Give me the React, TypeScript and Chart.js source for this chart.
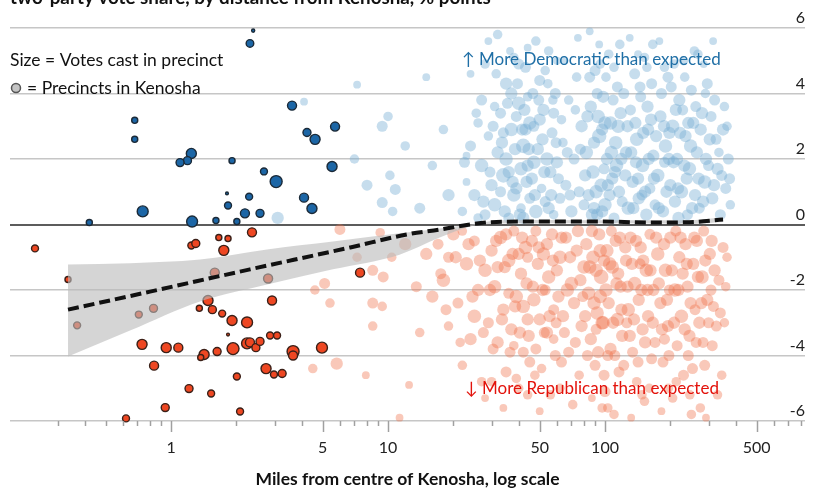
import React, { useEffect, useRef } from 'react';
import { Chart, registerables } from 'chart.js';
Chart.register(...registerables);

// ---------- DATA ----------
const titleText = 'two-party vote share, by distance from Kenosha, % points';
const xAxisTitle = 'Miles from centre of Kenosha, log scale';
const legendLine1 = 'Size = Votes cast in precinct';
const legendLine2 = '= Precincts in Kenosha';
const demNote = '\u2191 More Democratic than expected';
const repNote = '\u2193 More Republican than expected';

const xTickLabels = [1, 5, 10, 50, 100, 500];
const xMinorTicks = [0.3, 0.4, 0.5, 0.6, 0.7, 0.8, 0.9, 2, 3, 4, 6, 7, 8, 9, 20, 30, 40, 60, 70, 80, 90, 200, 300, 400, 600, 700, 800];
const yTicks = [-6, -4, -2, 0, 2, 4, 6];

// [miles, % points, votes (hundreds)]
const kenoshaDem = [
  [2.39, 5.92, 0.5], [2.31, 5.53, 3.0], [0.68, 3.18, 1.9], [0.68, 2.6, 1.9], [3.61, 3.63, 4.2],
  [4.23, 2.81, 3.3], [4.61, 2.6, 5.2], [5.70, 2.99, 4.2], [1.24, 2.17, 5.2], [1.19, 1.95, 3.3],
  [1.10, 1.89, 3.3], [1.91, 1.95, 1.9], [5.52, 1.77, 5.2], [2.68, 1.62, 2.5], [3.05, 1.31, 7.4],
  [4.10, 0.82, 4.2], [4.46, 0.49, 5.2], [1.81, 0.95, 0.4], [1.83, 0.58, 2.5], [2.29, 0.85, 2.5],
  [2.19, 0.34, 4.2], [2.57, 0.34, 3.3], [1.61, 0.12, 1.9], [2.01, 0.09, 1.9], [1.25, 0.09, 6.2],
  [0.74, 0.40, 6.2], [0.42, 0.06, 1.9],
];
const kenoshaRep = [
  [0.236, -0.73, 2.5], [1.24, -0.64, 2.5], [1.30, -0.58, 3.3], [1.66, -0.40, 1.9], [1.83, -0.43, 1.9],
  [2.36, -0.24, 4.2], [1.75, -0.79, 5.2], [0.335, -1.68, 1.9], [1.59, -1.47, 4.2], [2.80, -1.65, 4.2],
  [7.43, -1.47, 4.2], [1.48, -2.32, 5.2], [2.92, -2.32, 4.2], [0.369, -3.08, 2.5], [0.71, -2.75, 2.5],
  [0.83, -2.56, 3.3], [1.35, -2.56, 1.9], [1.55, -2.60, 3.3], [1.72, -2.72, 2.5], [1.91, -2.93, 5.2],
  [2.24, -2.99, 6.2], [1.83, -3.36, 0.4], [2.86, -3.39, 2.5], [3.08, -3.39, 2.5], [0.735, -3.66, 5.2],
  [0.95, -3.76, 5.2], [1.08, -3.76, 4.2], [1.42, -3.97, 5.2], [1.37, -4.06, 1.9], [1.63, -3.88, 3.3],
  [1.93, -3.79, 7.4], [2.24, -3.63, 6.2], [2.31, -3.60, 4.2], [2.46, -3.76, 3.3], [2.57, -3.57, 3.3],
  [3.65, -3.88, 7.4], [3.65, -4.0, 4.2], [4.96, -3.76, 6.2], [0.835, -4.31, 4.2], [2.74, -4.40, 5.2],
  [2.98, -4.58, 2.5], [3.25, -4.55, 3.3], [2.01, -4.64, 2.5], [1.21, -5.01, 3.3], [1.53, -5.16, 2.5],
  [0.94, -5.59, 3.3], [2.08, -5.71, 2.5], [0.62, -5.92, 2.5],
];
const cloudDem = [
  [7, 2.0, 3], [10.8, 1.07, 4], [8, 1.2, 4], [10.5, 0.4, 3], [9.4, 0.67, 4], [3.1, 0.2, 5], [10.2, 1.5, 3],
  [10, 3.3, 3], [4.1, 3.75, 2], [7.2, 4.27, 2], [9.4, 3.0, 4], [14, 0.5, 4], [16, 1.8, 3], [18, 2.9, 3],
  [12, 2.4, 3], [15, 4.5, 2], [19, 0.9, 5],
  [22, 0.4, 3], [23, 1.3, 2], [24, 2.4, 4], [25, 0.9, 5], [26, 3.1, 3], [27, 1.8, 6], [28, 0.3, 4], [29, 2.7, 3],
  [24, 4.6, 2], [27, 3.8, 4], [30, 1.2, 5], [29, 5.6, 2], [26, 0.2, 3], [23, 2.1, 2], [28, 4.9, 3],
  [31, 0.6, 6], [32, 2.2, 5], [33, 3.4, 4], [34, 1.5, 7], [35, 4.3, 5], [36, 0.2, 4], [37, 2.9, 6], [38, 5.1, 3],
  [39, 1.1, 5], [40, 3.7, 6], [41, 0.5, 3], [42, 2.4, 7], [43, 4.8, 4], [44, 1.8, 5], [45, 3.1, 6], [32, 5.8, 3],
  [34, 2.8, 4], [36, 1.6, 5], [38, 0.9, 6], [40, 4.9, 4], [42, 0.2, 5], [44, 3.9, 3], [33, 1.0, 4], [35, 2.0, 6],
  [37, 4.0, 5], [39, 3.3, 4], [41, 1.7, 6], [43, 2.9, 5], [45, 0.8, 4], [31, 3.6, 3],
  [46, 1.4, 5], [47, 3.0, 4], [48, 0.4, 6], [49, 2.3, 5], [50, 4.4, 4], [51, 1.1, 3], [52, 3.5, 5], [53, 0.7, 4],
  [54, 2.0, 6], [55, 5.3, 3], [56, 1.6, 5], [57, 2.8, 4], [58, 0.3, 3], [59, 4.0, 4], [60, 1.9, 5], [48, 5.6, 3],
  [50, 3.2, 5], [53, 4.7, 3], [47, 1.9, 6], [55, 0.5, 5], [58, 3.4, 4],
  [62, 0.8, 4], [64, 2.5, 3], [66, 1.2, 4], [68, 3.8, 3], [70, 0.4, 5], [72, 2.0, 4], [74, 4.5, 3], [76, 1.0, 4],
  [78, 3.0, 5], [80, 0.6, 4], [65, 5.0, 2], [75, 5.7, 2],
  [82, 2.2, 6], [84, 0.9, 5], [86, 3.6, 5], [88, 1.6, 6], [90, 4.7, 4], [92, 0.3, 5], [94, 2.7, 7], [96, 1.2, 6],
  [98, 3.9, 5], [100, 0.6, 6], [102, 2.0, 5], [104, 5.2, 3], [106, 3.1, 6], [108, 1.4, 5], [110, 0.2, 4],
  [112, 2.5, 6], [114, 4.2, 4], [116, 1.0, 5], [118, 3.4, 5], [120, 0.7, 4], [85, 5.9, 2], [92, 4.0, 4],
  [97, 2.9, 5], [101, 4.5, 3], [105, 0.9, 5], [109, 3.8, 4], [113, 1.8, 6], [117, 5.5, 3], [89, 0.5, 5], [99, 1.7, 4],
  [125, 2.2, 5], [128, 0.5, 6], [131, 3.5, 4], [134, 1.3, 5], [137, 4.6, 4], [140, 2.6, 6], [143, 0.8, 5],
  [146, 3.9, 4], [149, 1.8, 6], [152, 5.1, 3], [155, 0.3, 5], [158, 2.9, 5], [161, 1.1, 4], [164, 4.3, 4],
  [167, 2.1, 5], [170, 0.6, 4], [130, 5.7, 2], [139, 1.9, 5], [148, 0.9, 4], [157, 3.6, 5], [166, 5.5, 3],
  [175, 1.5, 6], [180, 3.3, 5], [185, 0.4, 5], [190, 2.4, 6], [195, 4.5, 4], [200, 1.2, 5], [205, 3.0, 6],
  [210, 0.7, 5], [215, 2.0, 5], [220, 3.8, 5], [225, 1.0, 6], [230, 5.0, 3], [235, 2.7, 5], [240, 0.3, 4],
  [245, 1.7, 6], [250, 4.1, 4], [255, 3.1, 5], [260, 0.9, 5], [178, 5.6, 2], [188, 1.9, 4], [198, 2.8, 5],
  [208, 4.9, 3], [218, 0.2, 5], [228, 3.5, 4], [238, 1.4, 5], [248, 2.4, 6], [258, 5.3, 3],
  [265, 2.2, 5], [272, 0.5, 4], [280, 3.4, 5], [288, 1.3, 6], [296, 4.3, 4], [304, 2.6, 5], [312, 0.8, 5],
  [320, 3.8, 4], [330, 1.7, 5], [340, 0.3, 4], [350, 2.9, 5], [360, 1.1, 4], [370, 2.0, 4], [378, 0.6, 3],
  [268, 5.2, 3], [285, 4.9, 2], [300, 1.8, 4], [315, 5.6, 2], [335, 2.2, 3], [355, 3.6, 3],
  [22.5, 1.9, 4], [25.5, 3.4, 3], [27.5, 0.7, 5], [29.5, 1.6, 4], [30.5, 3.0, 4], [31.5, 4.6, 3], [33.5, 2.5, 5],
  [34.5, 0.4, 5], [35.5, 3.7, 4], [36.5, 5.3, 2], [37.5, 1.3, 5], [38.5, 2.3, 5], [39.5, 4.3, 4], [40.5, 0.3, 5],
  [41.5, 2.9, 5], [42.5, 3.5, 5], [43.5, 1.3, 5], [44.5, 2.3, 5], [46.5, 4.0, 4], [47.5, 0.9, 5], [49.5, 3.8, 4],
  [51.5, 2.6, 5], [52.5, 1.6, 5], [54.5, 4.3, 3], [56.5, 0.9, 5], [57.5, 3.8, 3], [59.5, 2.5, 4], [61, 1.4, 4],
  [63, 3.2, 3], [67, 2.2, 4], [69, 0.9, 4], [73, 3.5, 3], [77, 2.3, 4], [81, 1.5, 5], [83, 3.3, 5], [85, 4.5, 4],
  [87, 0.3, 5], [89, 2.5, 5], [91, 1.0, 6], [93, 3.3, 6], [95, 4.9, 3], [97, 0.4, 5], [100, 3.1, 6], [103, 1.2, 5],
  [107, 2.2, 6], [110, 4.8, 3], [111, 1.6, 5], [115, 3.0, 6], [119, 2.0, 5], [122, 4.0, 4], [124, 1.5, 5],
  [127, 3.0, 5], [132, 2.2, 5], [135, 0.5, 5], [138, 3.1, 5], [142, 1.4, 5], [145, 4.2, 4], [150, 2.8, 5],
  [153, 1.0, 5], [156, 4.8, 3], [159, 2.0, 5], [163, 3.2, 5], [168, 1.4, 5], [172, 2.7, 5], [177, 0.5, 5],
  [182, 4.0, 4], [187, 3.0, 5], [192, 1.0, 5], [197, 2.0, 5], [202, 4.2, 4], [207, 1.9, 5], [212, 3.5, 5],
  [217, 1.1, 5], [222, 2.8, 5], [232, 1.8, 5], [242, 3.1, 5], [252, 0.5, 5], [262, 3.6, 4], [270, 1.4, 5],
  [276, 2.9, 5], [283, 0.7, 5], [292, 2.0, 5], [308, 3.3, 4], [318, 1.2, 5], [325, 2.6, 4], [345, 1.5, 4],
  [365, 3.0, 3], [375, 1.4, 4], [290, 4.0, 3], [233, 4.5, 3], [188, 4.8, 3], [142, 5.2, 2], [94, 5.5, 2],
  [60, 5.0, 2], [44, 5.4, 2],
];
const cloudRep = [
  [4.6, -2.0, 3], [5.4, -2.4, 3], [8.5, -2.4, 4], [9.4, -2.5, 3], [8.5, -3.1, 3], [5.8, -4.25, 5], [4.5, -4.4, 3],
  [7.9, -4.6, 2], [11.3, -5.9, 2], [6, -0.15, 4], [7.2, -1, 3], [8.5, -1.4, 4], [10.4, -1, 3], [9.5, -1.6, 4],
  [5.1, -1.8, 4], [9.2, -0.25, 3], [12, -0.6, 5], [13.5, -1.9, 4], [14, -3.3, 3], [15, -0.9, 5], [12.5, -4.9, 2],
  [17, -0.6, 4], [18, -1.7, 6], [19, -3.1, 3], [20, -0.3, 5], [21, -2.4, 4], [22, -4.3, 3], [23, -1.2, 6],
  [24, -3.5, 5], [25, -0.5, 4], [26, -2.0, 5], [27, -4.8, 3], [28, -1.4, 6], [29, -3.0, 4], [30, -0.8, 5],
  [19, -1.0, 4], [25, -2.8, 6], [28, -5.3, 2], [22, -0.2, 3], [16, -2.2, 5],
  [31, -1.9, 6], [32, -3.6, 5], [33, -0.4, 6], [34, -2.6, 5], [35, -4.5, 4], [36, -1.1, 6], [37, -3.2, 5],
  [38, -0.2, 4], [39, -2.2, 6], [40, -5.0, 3], [41, -1.5, 5], [42, -3.9, 4], [43, -0.7, 6], [44, -2.9, 5],
  [45, -4.2, 4], [32, -1.3, 5], [34, -5.6, 2], [36, -2.1, 4], [38, -3.7, 3], [40, -0.9, 5], [42, -2.5, 6],
  [44, -1.0, 4], [35, -0.3, 5], [39, -4.7, 3],
  [46, -0.5, 5], [47, -2.3, 6], [48, -3.8, 4], [49, -1.2, 5], [50, -2.9, 5], [51, -4.4, 3], [52, -0.9, 6],
  [53, -2.0, 4], [54, -3.3, 5], [55, -1.6, 6], [56, -5.2, 3], [57, -0.3, 5], [58, -2.6, 4], [59, -4.0, 4],
  [60, -1.4, 5], [48, -0.2, 4], [50, -5.7, 2], [54, -0.6, 5], [58, -3.5, 3],
  [62, -1.0, 6], [64, -2.8, 5], [66, -0.4, 5], [68, -3.9, 4], [70, -1.8, 6], [72, -2.4, 5], [74, -0.8, 5],
  [76, -4.6, 3], [78, -3.1, 5], [80, -1.3, 6], [63, -4.2, 4], [67, -2.0, 6], [71, -5.5, 3], [75, -0.2, 5], [79, -2.2, 4],
  [82, -0.6, 5], [84, -2.1, 6], [86, -3.5, 5], [88, -1.0, 6], [90, -4.3, 4], [92, -2.7, 6], [94, -0.3, 5],
  [96, -1.6, 7], [98, -3.0, 6], [100, -5.1, 4], [102, -0.8, 6], [104, -2.4, 5], [106, -3.8, 5], [108, -1.3, 6],
  [110, -5.8, 3], [112, -0.5, 5], [114, -2.9, 6], [116, -4.5, 4], [118, -1.9, 5], [120, -3.4, 5], [95, -2.2, 6],
  [99, -1.1, 5], [103, -4.0, 4], [97, -5.6, 3], [107, -0.2, 4], [115, -1.5, 5], [91, -3.2, 4], [87, -5.3, 2],
  [125, -1.1, 5], [128, -2.6, 6], [131, -0.4, 5], [134, -3.9, 4], [137, -1.8, 6], [140, -4.8, 3], [143, -2.3, 5],
  [146, -0.7, 5], [149, -3.2, 5], [152, -5.4, 3], [155, -1.4, 6], [158, -2.8, 5], [161, -0.3, 4], [164, -4.1, 4],
  [167, -2.0, 5], [170, -3.6, 4], [132, -5.9, 2], [145, -1.2, 4], [160, -5.0, 3], [126, -3.0, 4],
  [175, -0.9, 6], [180, -2.4, 5], [185, -4.2, 4], [190, -1.4, 6], [195, -3.1, 5], [200, -0.4, 5], [205, -5.3, 3],
  [210, -2.0, 6], [215, -3.7, 4], [220, -1.0, 5], [225, -2.8, 6], [230, -4.6, 4], [235, -0.6, 5], [240, -1.9, 5],
  [245, -3.4, 5], [250, -5.8, 3], [255, -1.2, 5], [260, -2.6, 4], [182, -5.7, 2], [198, -2.0, 4], [212, -0.2, 4],
  [228, -1.5, 5], [242, -4.0, 4], [188, -3.5, 4],
  [265, -0.5, 5], [272, -3.0, 5], [280, -1.6, 6], [288, -4.3, 4], [296, -2.3, 5], [304, -0.9, 5], [312, -3.7, 4],
  [320, -1.4, 5], [330, -5.2, 3], [340, -2.7, 4], [350, -0.7, 4], [360, -1.9, 3], [275, -5.6, 3], [292, -5.9, 2],
  [308, -2.0, 4], [326, -3.1, 4], [345, -4.6, 3], [285, -0.2, 4],
  [17.5, -1.5, 4], [18.5, -2.6, 4], [20.5, -1.0, 5], [21.5, -3.6, 3], [23.5, -0.6, 5], [24.5, -2.2, 5],
  [26.5, -1.1, 5], [27.5, -3.3, 4], [29.5, -2.0, 5], [30.5, -3.8, 4], [31.5, -0.5, 5], [33.5, -2.9, 5],
  [34.5, -1.3, 5], [36.5, -3.9, 4], [37.5, -0.9, 5], [38.5, -2.5, 5], [40.5, -3.3, 5], [41.5, -0.4, 5],
  [43.5, -1.8, 5], [44.5, -3.4, 5], [46.5, -1.9, 5], [47.5, -4.6, 3], [49.5, -0.7, 5], [51.5, -2.0, 5],
  [52.5, -3.3, 4], [55.5, -2.8, 5], [57.5, -1.1, 5], [59.5, -3.0, 4], [61, -2.2, 5], [63, -0.4, 5], [65, -3.3, 4],
  [69, -1.0, 5], [73, -3.6, 4], [77, -1.7, 5], [81, -2.8, 5], [83, -4.0, 4], [85, -1.3, 6], [87, -0.2, 5],
  [89, -2.4, 6], [91, -1.4, 6], [93, -3.9, 5], [95, -0.8, 6], [97, -3.0, 6], [99, -4.6, 4], [101, -2.0, 6],
  [105, -1.2, 6], [109, -3.0, 5], [111, -4.0, 4], [113, -1.8, 5], [117, -0.4, 5], [119, -2.6, 5], [122, -4.3, 4],
  [124, -0.7, 5], [127, -1.9, 5], [130, -3.4, 5], [133, -1.2, 5], [136, -2.9, 5], [139, -0.5, 5], [142, -4.2, 4],
  [147, -2.0, 5], [150, -1.1, 5], [153, -3.6, 5], [157, -2.0, 5], [162, -1.4, 5], [166, -3.0, 5], [172, -0.4, 5],
  [177, -1.8, 5], [183, -3.2, 5], [187, -0.6, 5], [193, -2.3, 5], [197, -4.0, 4], [203, -1.4, 5], [208, -3.0, 5],
  [213, -4.8, 3], [218, -2.0, 5], [223, -0.4, 5], [233, -3.2, 5], [238, -1.2, 5], [248, -2.4, 5], [253, -4.4, 4],
  [258, -0.4, 5], [263, -3.6, 4], [268, -1.6, 5], [278, -2.4, 5], [283, -3.6, 4], [290, -1.1, 5], [300, -3.0, 4],
  [310, -0.5, 5], [316, -2.5, 4], [335, -1.7, 4], [355, -3.0, 3], [365, -1.0, 3], [246, -5.2, 3], [196, -5.0, 3],
  [148, -5.2, 3], [103, -5.6, 3], [62, -5.0, 3], [44, -5.2, 3], [30, -4.8, 3],
];
const trendX = [0.335, 0.8, 2.31, 6.7, 12.3, 17.5, 21, 25, 30, 45, 95, 160, 245, 350];
const trendY = [-2.6, -2.05, -1.37, -0.7, -0.3, -0.15, -0.06, 0.02, 0.07, 0.09, 0.09, 0.06, 0.07, 0.15];
const bandX = [0.335, 0.647, 1.36, 2.77, 5.57, 11.3, 17.3, 23.9, 33, 60, 120, 250, 350];
const bandHi = [-1.22, -1.18, -1.07, -0.76, -0.52, -0.27, -0.12, 0.0, 0.13, 0.14, 0.13, 0.13, 0.22];
const bandLo = [-4.03, -3.24, -2.35, -1.83, -1.37, -0.92, -0.4, -0.06, 0.03, 0.04, 0.04, 0.02, 0.08];

// ---------- HELPERS ----------
const FONT = 'Lato, "Open Sans", sans-serif';
const radius = (v: number) => 2.2 * Math.sqrt(v);
const cloudRadius = (v: number) => 2.75 * Math.sqrt(v);
const toPts = (arr: number[][]) => arr.map(([x, y, v]) => ({ x, y, v }));
const toLine = (xs: number[], ys: number[]) => xs.map((x, i) => ({ x, y: ys[i] }));

const decorPlugin = {
  id: 'decor',
  afterDraw(chart: any) {
    const { ctx, scales } = chart;
    const x = scales.x;
    const y = scales.y;
    const base = y.getPixelForValue(-6);
    ctx.save();
    ctx.strokeStyle = '#a0a0a0';
    ctx.lineWidth = 1.5;
    xMinorTicks.forEach((v) => {
      const px = Math.round(x.getPixelForValue(v)) + 0.5;
      ctx.beginPath(); ctx.moveTo(px, base); ctx.lineTo(px, base + 5); ctx.stroke();
    });
    xTickLabels.forEach((v) => {
      const px = Math.round(x.getPixelForValue(v)) + 0.5;
      ctx.beginPath(); ctx.moveTo(px, base); ctx.lineTo(px, base + 11); ctx.stroke();
    });

    // title (clipped at top)
    ctx.fillStyle = '#111';
    ctx.textAlign = 'left';
    ctx.textBaseline = 'alphabetic';
    ctx.font = `bold 18.8px ${FONT}`;
    ctx.fillText(titleText, 10, 4);

    // legend
    ctx.textBaseline = 'middle';
    ctx.font = `17.5px ${FONT}`;
    ctx.fillStyle = '#111';
    ctx.fillText(legendLine1, 10, 60);
    ctx.fillText(legendLine2, 27, 88);
    ctx.beginPath();
    ctx.arc(16, 88, 4.5, 0, Math.PI * 2);
    ctx.fillStyle = '#c4c4c4';
    ctx.fill();
    ctx.strokeStyle = '#555';
    ctx.lineWidth = 1.5;
    ctx.stroke();

    // notes
    ctx.font = `17px ${FONT}`;
    ctx.fillStyle = '#1f6fa6';
    ctx.fillText(demNote, 462, 60);
    ctx.fillStyle = '#e3120b';
    ctx.fillText(repNote, 465, 389);
    ctx.restore();
  },
};

export default function App() {
  const ref = useRef<HTMLCanvasElement | null>(null);
  useEffect(() => {
    if (!ref.current) return;
    Chart.defaults.font.family = FONT;
    const chart = new Chart(ref.current, {
      type: 'scatter',
      data: {
        datasets: [
          {
            type: 'line',
            label: 'trend',
            data: toLine(trendX, trendY),
            borderColor: '#111',
            borderWidth: 4,
            borderDash: [11, 5],
            pointRadius: 0,
            cubicInterpolationMode: 'monotone',
            fill: false,
            order: 0,
          } as any,
          {
            type: 'line',
            label: 'bandHi',
            data: toLine(bandX, bandHi),
            borderWidth: 0,
            borderColor: 'rgba(0,0,0,0)',
            backgroundColor: 'rgba(188,188,188,0.62)',
            pointRadius: 0,
            cubicInterpolationMode: 'monotone',
            fill: '+1',
            order: 1,
          } as any,
          {
            type: 'line',
            label: 'bandLo',
            data: toLine(bandX, bandLo),
            borderWidth: 0,
            borderColor: 'rgba(0,0,0,0)',
            pointRadius: 0,
            cubicInterpolationMode: 'monotone',
            fill: false,
            order: 1,
          } as any,
          {
            label: 'kenoshaDem',
            data: toPts(kenoshaDem),
            pointRadius: (c: any) => radius(c.raw.v),
            backgroundColor: '#1c66a6',
            borderColor: '#1b2a38',
            borderWidth: 1.4,
            order: 2,
            clip: false,
          } as any,
          {
            label: 'kenoshaRep',
            data: toPts(kenoshaRep),
            pointRadius: (c: any) => radius(c.raw.v),
            backgroundColor: '#ee4722',
            borderColor: '#3a2018',
            borderWidth: 1.4,
            order: 2,
            clip: false,
          } as any,
          {
            label: 'cloudDem',
            data: toPts(cloudDem),
            pointRadius: (c: any) => cloudRadius(c.raw.v),
            backgroundColor: 'rgba(120,175,212,0.42)',
            borderWidth: 0,
            order: 3,
            clip: false,
          } as any,
          {
            label: 'cloudRep',
            data: toPts(cloudRep),
            pointRadius: (c: any) => cloudRadius(c.raw.v),
            backgroundColor: 'rgba(238,110,70,0.38)',
            borderWidth: 0,
            order: 3,
            clip: false,
          } as any,
        ],
      },
      options: {
        responsive: false,
        animation: false,
        events: [],
        layout: { padding: { left: 10, right: 11, top: 28, bottom: 0 } },
        plugins: { legend: { display: false }, tooltip: { enabled: false } },
        scales: {
          x: {
            type: 'logarithmic',
            min: 0.181,
            max: 835,
            afterBuildTicks: (s: any) => { s.ticks = xTickLabels.map((v) => ({ value: v })); },
            afterFit: (s: any) => { s.height = 70; },
            ticks: {
              autoSkip: false,
              maxRotation: 0,
              padding: 17,
              color: '#222',
              font: { size: 16 },
              callback: (v: any) => String(v),
            },
            grid: { display: false, drawTicks: false },
            border: { display: false },
            title: {
              display: true,
              text: xAxisTitle,
              color: '#111',
              font: { size: 17.5, weight: 'bold' },
              padding: { top: 0, bottom: 1.5 },
            },
          } as any,
          y: {
            type: 'linear',
            position: 'right',
            min: -6,
            max: 6,
            afterBuildTicks: (s: any) => { s.ticks = yTicks.map((v) => ({ value: v })); },
            ticks: {
              mirror: true,
              padding: 0,
              labelOffset: -10,
              color: '#222',
              font: { size: 16 },
              callback: (v: any) => String(v),
            },
            grid: {
              drawTicks: false,
              color: (c: any) => (c.tick && c.tick.value === 0 ? '#5c5c5c' : '#c6c6c6'),
              lineWidth: (c: any) => (c.tick && c.tick.value === 0 ? 2 : 1.5),
            },
            border: { display: false },
          } as any,
        },
      },
      plugins: [decorPlugin],
    } as any);
    return () => chart.destroy();
  }, []);
  return (
    <div style={{ position: 'absolute', left: 0, top: 0, width: 816, height: 491, background: '#fff' }}>
      <canvas ref={ref} width={816} height={491} style={{ display: 'block' }} />
    </div>
  );
}
